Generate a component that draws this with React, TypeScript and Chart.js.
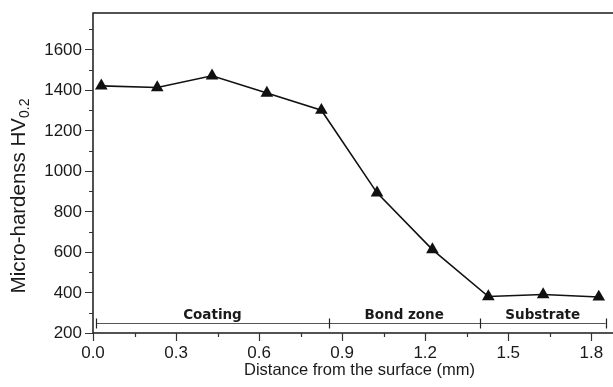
import React, { useEffect, useRef } from "react";
import { Chart, registerables } from "chart.js";

Chart.register(...registerables);

// Data
const distances = [0.03, 0.232, 0.43, 0.628, 0.825, 1.026, 1.226, 1.428, 1.626, 1.827];
const hardness = [1420, 1412, 1470, 1385, 1300, 892, 612, 380, 390, 378];

const xMajorTicks = [0, 0.3, 0.6, 0.9, 1.2, 1.5, 1.8];
const xTickLabels = ["0.0", "0.3", "0.6", "0.9", "1.2", "1.5", "1.8"];
const xMinorTicks = [0.15, 0.45, 0.75, 1.05, 1.35, 1.65];
const yMajorTicks = [200, 400, 600, 800, 1000, 1200, 1400, 1600];
const yTickLabels = ["200", "400", "600", "800", "1000", "1200", "1400", "1600"];
const yMinorTicks = [300, 500, 700, 900, 1100, 1300, 1500, 1700];

const zoneBounds = [0.012, 0.851, 1.397, 1.852];
const zoneLabels = ["Coating", "Bond zone", "Substrate"];
const zoneLineValue = 248;

const xTitle = "Distance from the surface (mm)";
const yTitleMain = "Micro-hardenss HV";
const yTitleSub = "0.2";

const X_MIN = 0;
const X_MAX = 1.9;
const Y_MIN = 200;
const Y_MAX = 1780;

const axesPlugin = {
  id: "customAxes",
  beforeDatasetsDraw(chart: any) {
    const { ctx, chartArea, scales } = chart;
    const xs = scales.x;
    const ys = scales.y;
    const { left, right, top, bottom } = chartArea;
    ctx.save();
    // frame
    ctx.strokeStyle = "#1a1a1a";
    ctx.lineWidth = 1.5;
    ctx.beginPath();
    ctx.rect(left, top, right - left, bottom - top);
    ctx.stroke();

    // ticks
    ctx.lineWidth = 1.2;
    ctx.strokeStyle = "#333";
    ctx.beginPath();
    xMajorTicks.forEach((v) => {
      const px = Math.round(xs.getPixelForValue(v)) + 0.5;
      ctx.moveTo(px, bottom);
      ctx.lineTo(px, bottom + 8);
    });
    xMinorTicks.forEach((v) => {
      const px = Math.round(xs.getPixelForValue(v)) + 0.5;
      ctx.moveTo(px, bottom);
      ctx.lineTo(px, bottom + 4);
    });
    yMajorTicks.forEach((v) => {
      const py = Math.round(ys.getPixelForValue(v)) + 0.5;
      ctx.moveTo(left, py);
      ctx.lineTo(left - 8, py);
    });
    yMinorTicks.forEach((v) => {
      const py = Math.round(ys.getPixelForValue(v)) + 0.5;
      ctx.moveTo(left, py);
      ctx.lineTo(left - 4, py);
    });
    ctx.stroke();

    // tick labels
    ctx.fillStyle = "#1a1a1a";
    ctx.font = '17px "Liberation Sans", Arial, sans-serif';
    ctx.textAlign = "center";
    ctx.textBaseline = "alphabetic";
    xMajorTicks.forEach((v, i) => {
      ctx.fillText(xTickLabels[i], xs.getPixelForValue(v), bottom + 25);
    });
    ctx.textAlign = "right";
    ctx.textBaseline = "middle";
    yMajorTicks.forEach((v, i) => {
      ctx.fillText(yTickLabels[i], left - 11, ys.getPixelForValue(v) + 0.5);
    });

    // zone annotation
    const zy = Math.round(ys.getPixelForValue(zoneLineValue)) + 0.5;
    ctx.strokeStyle = "#555";
    ctx.lineWidth = 1.2;
    ctx.beginPath();
    ctx.moveTo(xs.getPixelForValue(zoneBounds[0]), zy);
    ctx.lineTo(xs.getPixelForValue(zoneBounds[zoneBounds.length - 1]), zy);
    ctx.stroke();
    ctx.strokeStyle = "#222";
    ctx.beginPath();
    zoneBounds.forEach((v) => {
      const px = Math.round(xs.getPixelForValue(v)) + 0.5;
      ctx.moveTo(px, zy - 5);
      ctx.lineTo(px, zy + 5);
    });
    ctx.stroke();
    ctx.fillStyle = "#1a1a1a";
    ctx.font = 'bold 13.5px "DejaVu Sans", Verdana, sans-serif';
    ctx.textAlign = "center";
    ctx.textBaseline = "alphabetic";
    zoneLabels.forEach((lab, i) => {
      const cx = (xs.getPixelForValue(zoneBounds[i]) + xs.getPixelForValue(zoneBounds[i + 1])) / 2;
      ctx.fillText(lab, cx, zy - 4.5);
    });

    // x title
    ctx.font = '16.5px "Liberation Sans", Arial, sans-serif';
    ctx.textAlign = "center";
    ctx.fillText(xTitle, 359.5, bottom + 42);

    // y title
    ctx.save();
    ctx.translate(25, 196);
    ctx.rotate(-Math.PI / 2);
    const mainFont = '20.5px "Liberation Sans", Arial, sans-serif';
    const subFont = '14px "Liberation Sans", Arial, sans-serif';
    ctx.font = mainFont;
    const w1 = ctx.measureText(yTitleMain).width;
    ctx.font = subFont;
    const w2 = ctx.measureText(yTitleSub).width;
    const start = -(w1 + w2) / 2;
    ctx.textAlign = "left";
    ctx.font = mainFont;
    ctx.fillText(yTitleMain, start, 0);
    ctx.font = subFont;
    ctx.fillText(yTitleSub, start + w1, 4);
    ctx.restore();

    ctx.restore();
  },
};

export default function App() {
  const ref = useRef<HTMLCanvasElement | null>(null);
  useEffect(() => {
    if (!ref.current) return;
    const chart = new Chart(ref.current, {
      type: "line",
      data: {
        datasets: [
          {
            data: distances.map((x, i) => ({ x, y: hardness[i] })),
            borderColor: "#111",
            borderWidth: 1.6,
            pointStyle: "triangle",
            pointRadius: 7.3,
            pointBackgroundColor: "#111",
            pointBorderColor: "#111",
            pointBorderWidth: 0,
            clip: false as any,
            tension: 0,
          },
        ],
      },
      options: {
        responsive: false,
        animation: false,
        layout: { padding: { left: 93, top: 13, right: 31, bottom: 54 } },
        scales: {
          x: { type: "linear", min: X_MIN, max: X_MAX, display: false },
          y: { type: "linear", min: Y_MIN, max: Y_MAX, display: false },
        },
        plugins: { legend: { display: false }, tooltip: { enabled: false } },
        events: [],
      },
      plugins: [axesPlugin],
    });
    return () => chart.destroy();
  }, []);
  return (
    <div
      style={{
        position: "fixed",
        left: 0,
        top: 0,
        width: 613,
        height: 387,
        overflow: "hidden",
        background: "#fff",
      }}
    >
      <canvas ref={ref} width={650} height={387} style={{ width: 650, height: 387, display: "block" }} />
    </div>
  );
}
